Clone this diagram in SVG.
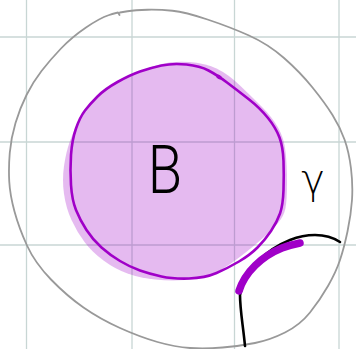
<svg xmlns="http://www.w3.org/2000/svg" width="356" height="349" viewBox="0 0 356 349">
<style>
.grid line{stroke:#c8d6d4;stroke-width:1.3}
.outer{fill:none;stroke:#999999;stroke-width:1.8;stroke-linecap:round;stroke-linejoin:round}
.blobfill{fill:#a000c8;fill-opacity:0.27;stroke:none}
.blobstroke{fill:none;stroke:#a000c8;stroke-width:2.6;stroke-linejoin:round}
.ink{fill:none;stroke:#000000;stroke-width:2.6;stroke-linecap:round}
.thick{fill:none;stroke:#a000c8;stroke-width:7.5;stroke-linecap:round}
.lbl{font-family:Roboto,"Liberation Sans","DejaVu Sans",sans-serif;font-weight:300;fill:#000000}
.lblg{font-family:"DejaVu Sans",sans-serif;font-weight:200;fill:#000000}
</style>
<rect width="356" height="349" fill="#ffffff"/>
<g id="grid" class="grid">
<line x1="26.5" y1="0" x2="26.5" y2="349"/>
<line x1="132" y1="0" x2="132" y2="349"/>
<line x1="234.5" y1="0" x2="234.5" y2="349"/>
<line x1="339" y1="0" x2="339" y2="349"/>
<line x1="0" y1="37" x2="356" y2="37"/>
<line x1="0" y1="142" x2="356" y2="142"/>
<line x1="0" y1="245" x2="356" y2="245"/>
</g>
<g id="outer-region">
<path class="outer" d="M120,12.5 L127.5,11.25 Q135,10 147.5,9.75 Q160,9.5 172.5,10.75 Q185,12 207.5,19.5 Q230,27 249,35.5 Q268,44 284,58 Q300,72 312.5,87.5 Q325,103 332.5,115 Q340,127 344.5,139.5 Q349,152 351,168.5 Q353,185 352,200 Q351,215 347.5,231.5 Q344,248 340,260 Q336,272 328,286 Q320,300 310,312.5 Q300,325 285,332.5 Q270,340 255,343 Q240,346 222.5,347.5 Q205,349 190,348 Q175,347 157.5,342 Q140,337 120,328 Q100,319 83.5,307.5 Q67,296 51,279.5 Q35,263 27,245.5 Q19,228 14.5,211.5 Q10,195 9.25,181.5 Q8.5,168 9.75,153 Q11,138 15.5,123 Q20,108 26.5,95 Q33,82 41.5,71 Q50,60 61,48.5 Q72,37 86,27.5 Q100,18 108.5,15.25 Q117,12.5 118,12.5 l1.5,2.5"/>
</g>
<g id="node-B">
<path class="blobfill" d="M161.5,64 Q173,61 189,62 Q205,63 216.5,68.5 Q228,74 240,85.5 Q252,97 262,107 Q272,117 278,127.5 Q284,138 285.5,151.5 Q287,165 287,182.5 Q287,200 285.5,208 Q284,216 278,223 Q272,230 263.5,237.5 Q255,245 247.5,251 Q240,257 231,263.5 Q222,270 211,274.5 Q200,279 185,280 Q170,281 155,279.5 Q140,278 127.5,273.5 Q115,269 103.5,260.5 Q92,252 84.5,242 Q77,232 71.5,220 Q66,208 64,194 Q62,180 64,166 Q66,152 70,141 Q74,130 79,120 Q84,110 92,101.5 Q100,93 114,84.5 Q128,76 139,71.5 Q150,67 161.5,64 Z"/>
<path class="blobstroke" d="M161.5,65.5 Q173,63 186.5,64.5 Q200,66 208.5,70.5 Q217,75 227,82.5 Q237,90 248.5,99 Q260,108 268,118 Q276,128 279.5,137.5 Q283,147 283.5,161 Q284,175 283.5,190 Q283,205 280,213.5 Q277,222 271,231 Q265,240 257.5,247.5 Q250,255 239,261.5 Q228,268 216.5,273 Q205,278 189,278.5 Q173,279 161.5,276.5 Q150,274 140,270.5 Q130,267 120,261 Q110,255 101.5,247.5 Q93,240 86.5,230 Q80,220 76,210 Q72,200 71,185 Q70,170 71,155 Q72,140 76,128.5 Q80,117 85,110.5 Q90,104 97.5,96.5 Q105,89 117.5,82 Q130,75 140,71.5 Q150,68 161.5,65.5 Z"/>
<ellipse cx="219" cy="77" rx="3" ry="2" fill="#a000c8" transform="rotate(30 219 77)"/>
<text class="lbl" transform="translate(165,193) scale(0.85,1)" x="0" y="0" font-size="66" text-anchor="middle">B</text>
</g>
<g id="node-gamma">
<text class="lblg" x="313" y="193" font-size="40" text-anchor="middle">γ</text>
</g>
<g id="connectors">
<path class="ink" d="M245,346 C243,325 240,310 240,295 C245,270 265,250 290,240 C305,234 325,232 340,242"/>
<path class="thick" d="M239,291 C245,272 262,256 282,248 C290,245 295,244 300,243"/>
</g>
</svg>
